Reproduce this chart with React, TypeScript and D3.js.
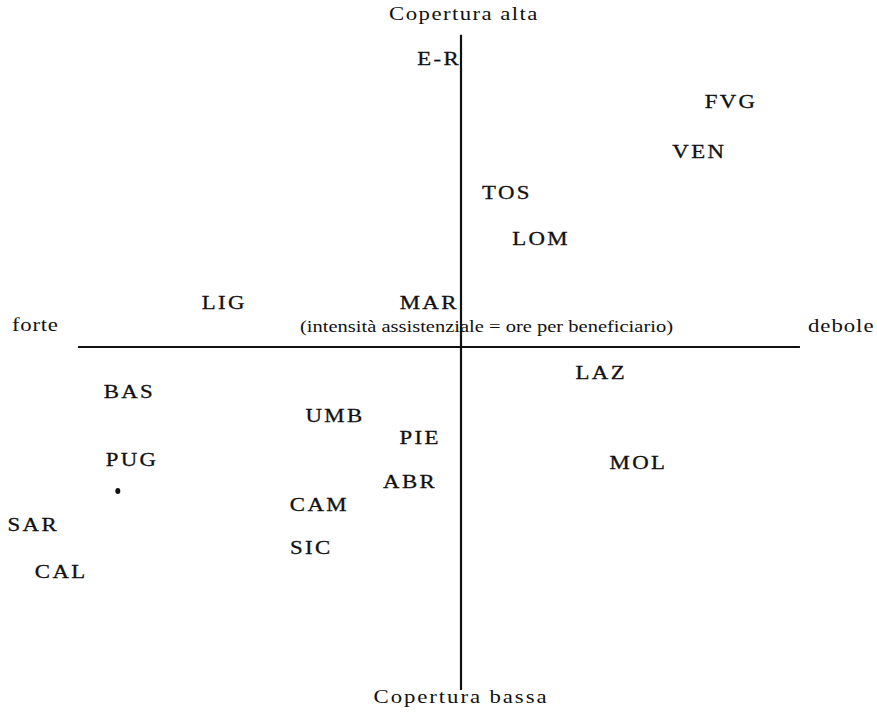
import React, { useRef, useEffect } from 'react';
import * as d3 from 'd3';

// Regional codes and their position on the two axes
// x: intensità assistenziale (negative = forte, positive = debole)
// y: copertura (positive = alta, negative = bassa)
const regions = ['E-R', 'FVG', 'VEN', 'TOS', 'LOM', 'LIG', 'MAR', 'LAZ', 'BAS', 'UMB', 'PIE', 'PUG', 'MOL', 'ABR', 'CAM', 'SAR', 'SIC', 'CAL'];
const intensity = [-6.0, 70.2, 61.9, 11.7, 20.6, -62.1, -8.6, 36.3, -86.9, -33.2, -11.0, -86.2, 46.0, -13.6, -37.3, -112.0, -39.4, -104.7];
const coverage = [84.3, 71.7, 57.1, 45.2, 31.8, 13.1, 13.1, -7.3, -12.8, -19.8, -26.2, -32.7, -33.5, -39.1, -45.8, -51.6, -58.3, -65.3];

// stray mark in the scan
const dots = [[-89.6, -42.0]];

const App = () => {
  const chartRef = useRef<SVGSVGElement>(null);

  useEffect(() => {
    const width = 877;
    const height = 720;
    const font = '"Liberation Serif", "Times New Roman", serif';
    const stretch = 1.2; // the scanned type is wide

    const svg = d3.select(chartRef.current)
      .attr('width', width)
      .attr('height', height);
    svg.selectAll('*').remove();

    const x = d3.scaleLinear().domain([-100, 100]).range([78, 844]);
    const y = d3.scaleLinear().domain([-100, 100]).range([690, 4]);

    // axes
    svg.append('line')
      .attr('x1', x(-100)).attr('x2', x(88.5))
      .attr('y1', y(0)).attr('y2', y(0))
      .attr('stroke', '#111').attr('stroke-width', 2);
    svg.append('line')
      .attr('x1', x(0)).attr('x2', x(0))
      .attr('y1', y(91)).attr('y2', y(-100))
      .attr('stroke', '#111').attr('stroke-width', 2.2);

    // axis captions
    const captions = svg.append('g')
      .attr('font-family', font)
      .attr('font-size', 19)
      .attr('fill', '#111');
    const caption = (label, cx, cy, anchor, spacing) =>
      captions.append('text')
        .attr('transform', `translate(${cx},${cy}) scale(${stretch},1)`)
        .attr('text-anchor', anchor)
        .attr('letter-spacing', spacing)
        .text(label);
    caption('Copertura alta', 464, 20, 'middle', 1.2);
    caption('Copertura bassa', 461, 703, 'middle', 1.6);
    caption('forte', 12, 331, 'start', 0.6);
    caption('debole', 808, 332, 'start', 0.8);
    captions.append('text')
      .attr('x', 300).attr('y', 332)
      .attr('font-size', 17)
      .attr('textLength', 373)
      .attr('lengthAdjust', 'spacingAndGlyphs')
      .text('(intensità assistenziale = ore per beneficiario)');

    // region labels
    svg.append('g')
      .selectAll('text')
      .data(regions)
      .enter().append('text')
      .attr('transform', (d, i) => `translate(${x(intensity[i])},${y(coverage[i])}) scale(${stretch},1)`)
      .attr('dy', '0.35em')
      .attr('dx', 1)
      .attr('text-anchor', 'middle')
      .attr('font-family', font)
      .attr('font-size', 19)
      .attr('letter-spacing', 2)
      .attr('fill', '#111')
      .attr('stroke', '#111')
      .attr('stroke-width', 0.3)
      .text(d => d);

    svg.append('g')
      .selectAll('ellipse')
      .data(dots)
      .enter().append('ellipse')
      .attr('cx', d => x(d[0]))
      .attr('cy', d => y(d[1]))
      .attr('rx', 2.5)
      .attr('ry', 3)
      .attr('fill', '#111');
  }, []);

  return (
    <svg ref={chartRef} style={{ position: 'absolute', left: 0, top: 0, background: '#fff' }}></svg>
  );
};

export default App;
